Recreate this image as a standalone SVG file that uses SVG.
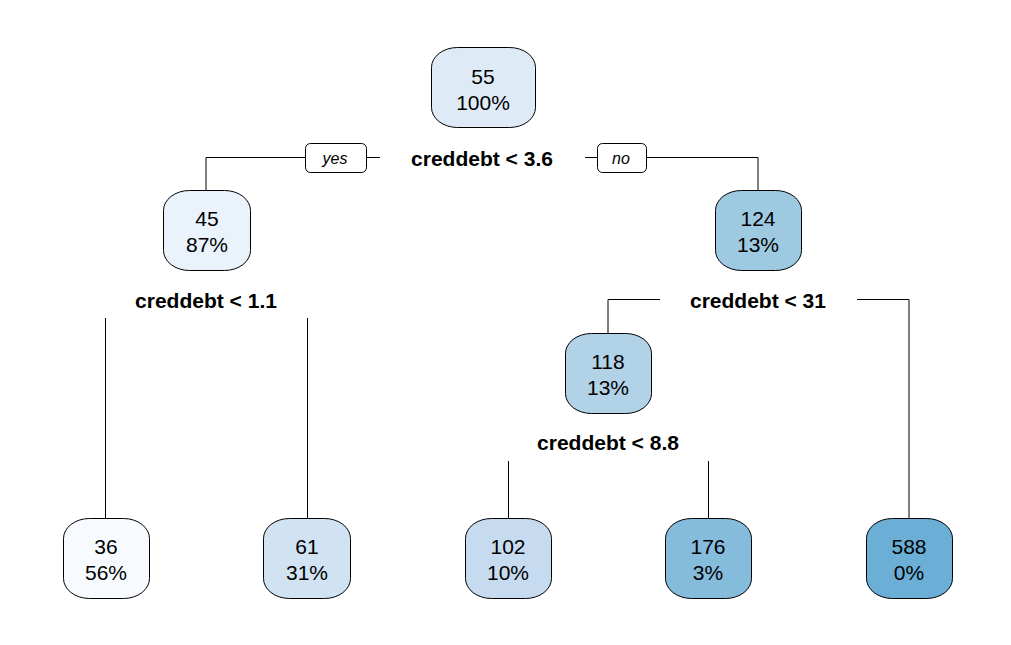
<svg xmlns="http://www.w3.org/2000/svg" width="1011" height="645" viewBox="0 0 1011 645">
<style>
.box{stroke:#000;stroke-width:1}
.t{font-family:"Liberation Sans",Arial,sans-serif;font-size:21px;text-anchor:middle;fill:#000}
.s{font-family:"Liberation Sans",Arial,sans-serif;font-size:21px;font-weight:bold;text-anchor:middle;fill:#000}
.yn{font-family:"Liberation Sans",Arial,sans-serif;font-size:16px;font-style:italic;text-anchor:middle;fill:#000}
.c{stroke:#000;stroke-width:1;fill:none}
</style>
<rect width="1011" height="645" fill="#fff"/>
<g id="connectors">
<path class="c" d="M206,190 V157.5 H305 M367,157.5 H380 M585,157.5 H597 M647,157.5 H758 V190"/>
<path class="c" d="M608,333 V299.5 H660 M857,299.5 H909 V519"/>
<path class="c" d="M105.5,318 V519 M307.5,318 V519"/>
<path class="c" d="M508.5,461 V519 M708.5,461 V519"/>
<rect class="box" x="305.5" y="143.5" width="61" height="29" rx="5" fill="#fff"/>
<text class="yn" x="335" y="164">yes</text>
<rect class="box" x="597.5" y="143.5" width="49" height="29" rx="5" fill="#fff"/>
<text class="yn" x="621" y="164">no</text>
</g>
<g id="n1"><rect class="box" x="431.5" y="47.5" width="104" height="80" rx="26" ry="20" fill="#DEEBF7"/><text class="t" x="483" y="84">55</text><text class="t" x="483" y="110">100%</text></g>
<text class="s" x="482" y="166">creddebt &lt; 3.6</text>
<g id="n2"><rect class="box" x="163.5" y="190.5" width="87" height="80" rx="26" ry="20" fill="#EAF3FB"/><text class="t" x="207" y="226">45</text><text class="t" x="207" y="252">87%</text></g>
<text class="s" x="206" y="308">creddebt &lt; 1.1</text>
<g id="n3"><rect class="box" x="715.5" y="190.5" width="86" height="80" rx="26" ry="20" fill="#9ECAE1"/><text class="t" x="758" y="226">124</text><text class="t" x="758" y="252">13%</text></g>
<text class="s" x="758" y="308">creddebt &lt; 31</text>
<g id="n7"><rect class="box" x="565.5" y="333.5" width="86" height="80" rx="26" ry="20" fill="#B1D2E7"/><text class="t" x="608" y="369">118</text><text class="t" x="608" y="395">13%</text></g>
<text class="s" x="608" y="450">creddebt &lt; 8.8</text>
<g id="n4"><rect class="box" x="63.5" y="518.5" width="86" height="80" rx="26" ry="20" fill="#F7FBFF"/><text class="t" x="106" y="554">36</text><text class="t" x="106" y="580">56%</text></g>
<g id="n5"><rect class="box" x="263.5" y="518.5" width="87" height="80" rx="26" ry="20" fill="#D1E2F3"/><text class="t" x="307" y="554">61</text><text class="t" x="307" y="580">31%</text></g>
<g id="n14"><rect class="box" x="465.5" y="518.5" width="86" height="80" rx="26" ry="20" fill="#C6DBEF"/><text class="t" x="508" y="554">102</text><text class="t" x="508" y="580">10%</text></g>
<g id="n15"><rect class="box" x="665.5" y="518.5" width="86" height="80" rx="26" ry="20" fill="#85BCDC"/><text class="t" x="708" y="554">176</text><text class="t" x="708" y="580">3%</text></g>
<g id="n6"><rect class="box" x="866.5" y="518.5" width="86" height="80" rx="26" ry="20" fill="#6BAED6"/><text class="t" x="909" y="554">588</text><text class="t" x="909" y="580">0%</text></g>
</svg>
